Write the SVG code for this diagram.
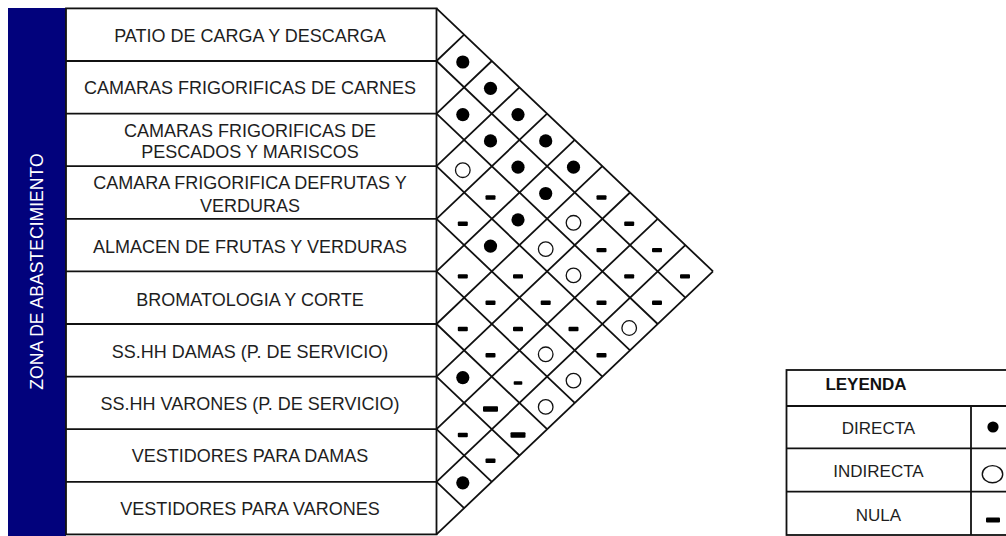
<svg xmlns="http://www.w3.org/2000/svg" xmlns:xlink="http://www.w3.org/1999/xlink" width="1006" height="536" viewBox="0 0 1006 536">
<style>
.lbl{font-family:"Liberation Sans",Arial,sans-serif;font-size:18px;fill:#1e1e1e;text-anchor:middle}
.leg{font-family:"Liberation Sans",Arial,sans-serif;font-size:17px;fill:#1e1e1e;text-anchor:middle}
.legh{font-family:"Liberation Sans",Arial,sans-serif;font-size:17px;font-weight:bold;fill:#111;text-anchor:middle}
.zone{font-family:"Liberation Sans",Arial,sans-serif;font-size:17.6px;fill:#fff;text-anchor:middle}
.ln{stroke:#111;stroke-width:1.8;fill:none}
.box{stroke:#111;stroke-width:1.8;fill:#fff}
</style>
<defs>
<circle id="dot" r="6.6" fill="#000"/>
<circle id="ring" r="7.3" fill="none" stroke="#111" stroke-width="1.3"/>
<rect id="dash" x="-5" y="-2.2" width="10" height="4.4" rx="1" fill="#000"/>
<rect id="dashS" x="-4.3" y="-1.7" width="8.6" height="3.4" rx="0.8" fill="#000"/>
<rect id="dashL" x="-7.5" y="-2.7" width="15" height="5.4" rx="1" fill="#000"/>
</defs>
<rect width="1006" height="536" fill="#fff"/>

<g id="zone">
<rect x="8" y="8" width="58" height="528" fill="#02027c"/>
<text class="zone" transform="translate(43.3,271.5) rotate(-90)">ZONA DE ABASTECIMIENTO</text>
</g>

<g id="rows">
<rect class="box" x="66" y="8.4" width="370.5" height="526"/>
<g id="row0"><text class="lbl" x="250" y="41.5">PATIO DE CARGA Y DESCARGA</text></g>
<g id="row1"><line class="ln" x1="66" y1="61" x2="436.5" y2="61"/><text class="lbl" x="250" y="94">CAMARAS FRIGORIFICAS DE CARNES</text></g>
<g id="row2"><line class="ln" x1="66" y1="113.6" x2="436.5" y2="113.6"/><text class="lbl" x="250" y="137.3">CAMARAS FRIGORIFICAS DE</text><text class="lbl" x="250" y="158">PESCADOS Y MARISCOS</text></g>
<g id="row3"><line class="ln" x1="66" y1="166.2" x2="436.5" y2="166.2"/><text class="lbl" x="250" y="189.3">CAMARA FRIGORIFICA DEFRUTAS Y</text><text class="lbl" x="250" y="212">VERDURAS</text></g>
<g id="row4"><line class="ln" x1="66" y1="218.8" x2="436.5" y2="218.8"/><text class="lbl" x="250" y="253">ALMACEN DE FRUTAS Y VERDURAS</text></g>
<g id="row5"><line class="ln" x1="66" y1="271.4" x2="436.5" y2="271.4"/><text class="lbl" x="250" y="305.5">BROMATOLOGIA Y CORTE</text></g>
<g id="row6"><line class="ln" x1="66" y1="324" x2="436.5" y2="324"/><text class="lbl" x="250" y="357.5">SS.HH DAMAS (P. DE SERVICIO)</text></g>
<g id="row7"><line class="ln" x1="66" y1="376.6" x2="436.5" y2="376.6"/><text class="lbl" x="250" y="409.8">SS.HH VARONES (P. DE SERVICIO)</text></g>
<g id="row8"><line class="ln" x1="66" y1="429.2" x2="436.5" y2="429.2"/><text class="lbl" x="250" y="462">VESTIDORES PARA DAMAS</text></g>
<g id="row9"><line class="ln" x1="66" y1="481.8" x2="436.5" y2="481.8"/><text class="lbl" x="250" y="515">VESTIDORES PARA VARONES</text></g>
</g>

<g id="connectors">
<path class="ln" d="M436.5,8.4L713,271.4 M436.5,61L685.35,297.7 M436.5,113.6L657.7,324 M436.5,166.2L630.05,350.3 M436.5,218.8L602.4,376.6 M436.5,271.4L574.75,402.9 M436.5,324L547.1,429.2 M436.5,376.6L519.45,455.5 M436.5,429.2L491.8,481.8 M436.5,481.8L464.15,508.1"/>
<path class="ln" d="M436.5,61L464.15,34.7 M436.5,113.6L491.8,61 M436.5,166.2L519.45,87.3 M436.5,218.8L547.1,113.6 M436.5,271.4L574.75,139.9 M436.5,324L602.4,166.2 M436.5,376.6L630.05,192.5 M436.5,429.2L657.7,218.8 M436.5,481.8L685.35,245.1 M436.5,534.4L713,271.4"/>
</g>

<g id="matrix">
<use xlink:href="#dot" x="462.8" y="62"/>
<use xlink:href="#dot" x="490.5" y="88.3"/>
<use xlink:href="#dot" x="462.8" y="114.6"/>
<use xlink:href="#dot" x="518" y="114.6"/>
<use xlink:href="#dot" x="490.5" y="140.9"/>
<use xlink:href="#dot" x="545.7" y="140.9"/>
<use xlink:href="#dot" x="518" y="167.2"/>
<use xlink:href="#dot" x="573.5" y="167.2"/>
<use xlink:href="#dot" x="545.7" y="193.5"/>
<use xlink:href="#dot" x="518" y="219.8"/>
<use xlink:href="#dot" x="490.5" y="246.1"/>
<use xlink:href="#dot" x="462.8" y="377.6"/>
<use xlink:href="#dot" x="462.8" y="482.8"/>

<use xlink:href="#ring" x="462.8" y="170.2"/>
<use xlink:href="#ring" x="573.5" y="222.8"/>
<use xlink:href="#ring" x="545.7" y="249.1"/>
<use xlink:href="#ring" x="573.5" y="275.4"/>
<use xlink:href="#ring" x="629.2" y="328"/>
<use xlink:href="#ring" x="545.7" y="354.3"/>
<use xlink:href="#ring" x="573.5" y="380.6"/>
<use xlink:href="#ring" x="545.7" y="406.9"/>

<use xlink:href="#dash" x="490.5" y="197.5"/>
<use xlink:href="#dash" x="601.5" y="197.5"/>
<use xlink:href="#dash" x="462.8" y="223.8"/>
<use xlink:href="#dash" x="629.2" y="223.8"/>
<use xlink:href="#dash" x="601.5" y="250.1"/>
<use xlink:href="#dash" x="657" y="250.1"/>
<use xlink:href="#dash" x="462.8" y="276.4"/>
<use xlink:href="#dash" x="518" y="276.4"/>
<use xlink:href="#dash" x="629.2" y="276.4"/>
<use xlink:href="#dash" x="685" y="276.4"/>
<use xlink:href="#dash" x="490.5" y="302.7"/>
<use xlink:href="#dash" x="545.7" y="302.7"/>
<use xlink:href="#dash" x="601.5" y="302.7"/>
<use xlink:href="#dash" x="657" y="302.7"/>
<use xlink:href="#dash" x="462.8" y="329"/>
<use xlink:href="#dash" x="518" y="329"/>
<use xlink:href="#dash" x="573.5" y="329"/>
<use xlink:href="#dash" x="490.5" y="355.3"/>
<use xlink:href="#dash" x="601.5" y="355.3"/>
<use xlink:href="#dash" x="462.8" y="435"/>
<use xlink:href="#dash" x="490.5" y="460.7"/>
<use xlink:href="#dashS" x="518" y="383"/>
<use xlink:href="#dashL" x="490.5" y="409"/>
<use xlink:href="#dashL" x="518" y="435"/>
</g>

<g id="legend">
<rect class="box" x="786.5" y="370" width="230" height="165"/>
<line class="ln" x1="786.5" y1="406" x2="1010" y2="406"/>
<line class="ln" x1="786.5" y1="448.3" x2="1010" y2="448.3"/>
<line class="ln" x1="786.5" y1="491.7" x2="1010" y2="491.7"/>
<line class="ln" x1="971" y1="406" x2="971" y2="535"/>
<text class="legh" x="866" y="390">LEYENDA</text>
<text class="leg" x="878.5" y="433.5">DIRECTA</text>
<text class="leg" x="878.5" y="476.7">INDIRECTA</text>
<text class="leg" x="878.5" y="520.5">NULA</text>
<circle cx="993" cy="427" r="5.6" fill="#000"/>
<ellipse cx="992.5" cy="474.2" rx="10.2" ry="8.6" fill="none" stroke="#111" stroke-width="1.4"/>
<rect x="986" y="517.5" width="14" height="5" rx="1" fill="#000"/>
</g>
</svg>
